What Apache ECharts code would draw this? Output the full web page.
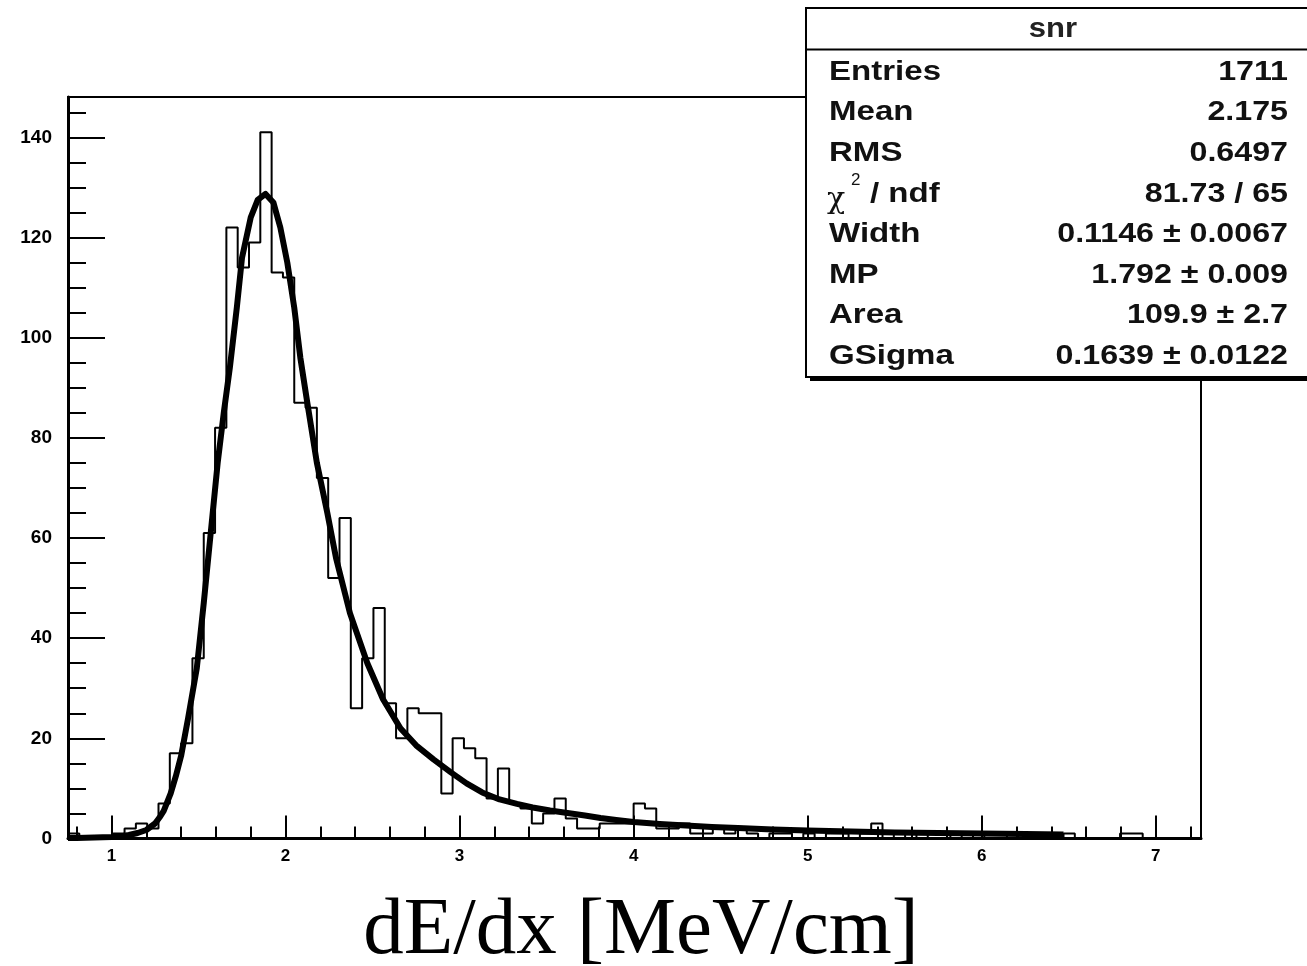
<!DOCTYPE html>
<html><head><meta charset="utf-8">
<script src="https://cdn.jsdelivr.net/npm/echarts@6/dist/echarts.min.js"></script>
<style>html,body{margin:0;padding:0;background:#fff}#c{width:1307px;height:966px}</style>
</head><body><div id="c"></div>
<script>
// ---- data ----
const binLow = 0.75;
const binWidth = 0.065;
const binCounts = [
  1,0,0,0,1,2,3,2,7,17,
  19,36,61,82,122,114,119,141,113,112,
  87,86,72,52,64,26,36,46,27,20,
  26,25,25,9,20,18,16,8,14,7,
  6,3,5,8,4,2,2,3,3,3,
  7,6,2,2,3,1,1,2,1,2,
  1,0,1,1,0,1,0,1,1,0,
  1,3,0,1,0,1,0,0,1,0,
  1,0,0,1,0,1,0,0,1,0,
  0,0,0,1,1,0,0,0,0,0
];
const fitX = [0.75,0.8,0.9,1.0,1.05,1.1,1.15,1.2,1.25,1.28,1.3,1.34,1.37,1.4,1.44,1.49,1.53,1.57,1.61,1.645,1.68,1.72,1.75,1.8,1.84,1.885,1.93,1.97,2.01,2.05,2.085,2.125,2.18,2.24,2.29,2.37,2.47,2.56,2.66,2.75,2.85,2.95,3.04,3.13,3.23,3.33,3.42,3.52,3.62,3.72,3.81,3.9,4.0,4.15,4.3,4.45,4.6,4.8,5.0,5.25,5.5,5.75,6.0,6.25,6.47];
const fitY = [0.1,0.1,0.2,0.3,0.4,0.7,1.1,1.7,3.0,4.4,5.5,9,12.5,16.5,24,34,47,61,75,85,94,106,116,124,127.5,128.7,127,122,115,106,96,87,75,65,56,45,35,27.8,22,18.6,15.8,13.2,11,9.2,7.8,6.9,6.2,5.6,5.1,4.6,4.1,3.7,3.3,2.9,2.6,2.3,2.1,1.8,1.6,1.4,1.2,1.1,1.0,0.9,0.8];
const xTickValues = [1,2,3,4,5,6,7];
const xMinorTickValues = [0.8,1.2,1.4,1.6,1.8,2.2,2.4,2.6,2.8,3.2,3.4,3.6,3.8,4.2,4.4,4.6,4.8,5.2,5.4,5.6,5.8,6.2,6.4,6.6,6.8,7.2];
const yTickValues = [0,20,40,60,80,100,120,140];
const yMinorTickValues = [5,10,15,25,30,35,45,50,55,65,70,75,85,90,95,105,110,115,125,130,135,145];
const xAxisTitle = 'dE/dx [MeV/cm]';
const statsTitle = 'snr';
const statsLabels = ['Entries','Mean','RMS','CHI','Width','MP','Area','GSigma'];
const statsValues = ['1711','2.175','0.6497','81.73 / 65','0.1146 \u00b1 0.0067','1.792 \u00b1 0.009','109.9 \u00b1 2.7','0.1639 \u00b1 0.0122'];

// ---- build ----
const histData = [[binLow, 0]];
binCounts.forEach((v, i) => { histData.push([binLow + i * binWidth, v]); });
histData.push([binLow + binCounts.length * binWidth, binCounts[binCounts.length - 1]]);
histData.push([binLow + binCounts.length * binWidth, 0]);
const fitData = fitX.map((x, i) => [x, fitY[i]]);

const X_MIN = 0.75, X_MAX = 7.26, Y_MIN = 0, Y_MAX = 148.05;
const lblFont = 'Liberation Sans';

const chart = echarts.init(document.getElementById('c'), null, {renderer: 'canvas'});

const statsEls = [];
const boxX = 806, boxY = 8, boxW = 530, boxH = 369;
statsEls.push({type: 'rect', shape: {x: boxX + 4, y: boxY + 4, width: boxW, height: boxH}, style: {fill: '#000'}});
statsEls.push({type: 'rect', shape: {x: boxX, y: boxY, width: boxW, height: boxH}, style: {fill: '#fff', stroke: '#000', lineWidth: 2}});
statsEls.push({type: 'line', shape: {x1: boxX, y1: 49.5, x2: 1307, y2: 49.5}, style: {stroke: '#000', lineWidth: 2}});
statsEls.push({type: 'text', x: 1053, y: 30, scaleX: 1.15, style: {text: statsTitle, font: 'bold 27px ' + lblFont, fill: '#222', textAlign: 'center', textVerticalAlign: 'middle'}});
statsLabels.forEach((lab, i) => {
  const cy = 72 + 40.6 * i;
  if (lab === 'CHI') {
    statsEls.push({type: 'text', x: 827, y: cy + 6, style: {text: '\u03c7', font: '30px "DejaVu Serif"', fill: '#111', textAlign: 'left', textVerticalAlign: 'middle'}});
    statsEls.push({type: 'text', x: 851, y: cy - 13, style: {text: '2', font: '17px ' + lblFont, fill: '#111', textAlign: 'left', textVerticalAlign: 'middle'}});
    statsEls.push({type: 'text', x: 870, y: cy, scaleX: 1.18, style: {text: '/ ndf', font: 'bold 28px ' + lblFont, fill: '#111', textAlign: 'left', textVerticalAlign: 'middle'}});
  } else {
    statsEls.push({type: 'text', x: 829, y: cy, scaleX: 1.18, style: {text: lab, font: 'bold 28px ' + lblFont, fill: '#111', textAlign: 'left', textVerticalAlign: 'middle'}});
  }
  statsEls.push({type: 'text', x: 1288, y: cy, scaleX: 1.15, style: {text: statsValues[i], font: 'bold 28px ' + lblFont, fill: '#111', textAlign: 'right', textVerticalAlign: 'middle'}});
});

chart.setOption({
  animation: false,
  backgroundColor: '#fff',
  grid: {left: 68, right: 106, top: 97, bottom: 127.5, show: true, borderColor: '#000', borderWidth: 2, backgroundColor: 'transparent'},
  xAxis: [
    {type: 'value', min: X_MIN, max: X_MAX, position: 'bottom',
     axisLine: {show: true, onZero: false, lineStyle: {color: '#000', width: 3}},
     axisTick: {show: true, inside: true, length: 23, customValues: xTickValues, lineStyle: {color: '#000', width: 2}},
     axisLabel: {show: true, customValues: xTickValues, margin: 9, color: '#000', fontFamily: lblFont, fontWeight: 'bold', fontSize: 17},
     splitLine: {show: false}},
    {type: 'value', min: X_MIN, max: X_MAX, position: 'bottom',
     axisLine: {show: false},
     axisTick: {show: true, inside: true, length: 12, customValues: xMinorTickValues, lineStyle: {color: '#000', width: 2}},
     axisLabel: {show: false},
     splitLine: {show: false}}
  ],
  yAxis: [
    {type: 'value', min: Y_MIN, max: Y_MAX, position: 'left',
     axisLine: {show: true, onZero: false, lineStyle: {color: '#000', width: 3}},
     axisTick: {show: true, inside: true, length: 37, customValues: yTickValues, lineStyle: {color: '#000', width: 2}},
     axisLabel: {show: true, customValues: yTickValues, margin: 16, color: '#000', fontFamily: lblFont, fontWeight: 'bold', fontSize: 19},
     splitLine: {show: false}},
    {type: 'value', min: Y_MIN, max: Y_MAX, position: 'left',
     axisLine: {show: false},
     axisTick: {show: true, inside: true, length: 18, customValues: yMinorTickValues, lineStyle: {color: '#000', width: 2}},
     axisLabel: {show: false},
     splitLine: {show: false}}
  ],
  series: [
    {type: 'line', name: 'snr', data: histData, step: 'end', symbol: 'none', xAxisIndex: 0, yAxisIndex: 0,
     lineStyle: {color: '#000', width: 2}, z: 3},
    {type: 'line', name: 'fit', data: fitData, symbol: 'none', xAxisIndex: 0, yAxisIndex: 0, smooth: false,
     lineStyle: {color: '#000', width: 6, join: 'round'}, z: 4}
  ],
  graphic: [
    {type: 'group', z: 100, children: statsEls},
    {type: 'text', z: 100, x: 641, y: 932, style: {text: xAxisTitle, font: '81px "Liberation Serif"', fill: '#000', textAlign: 'center', textVerticalAlign: 'middle'}}
  ]
});
</script>
</body></html>
